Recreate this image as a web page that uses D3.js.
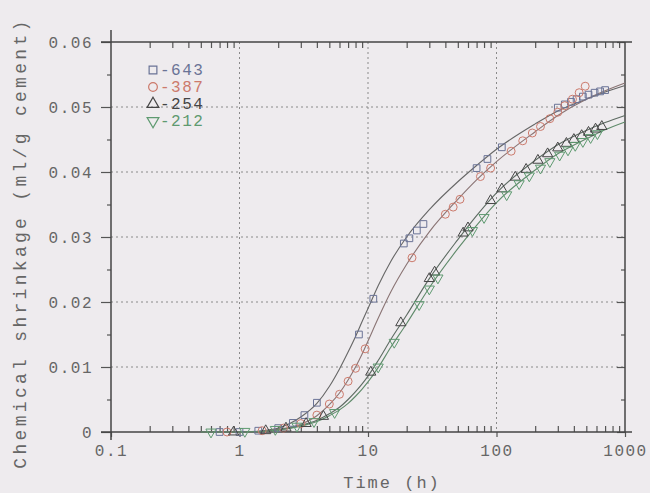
<!DOCTYPE html>
<html>
<head>
<meta charset="utf-8">
<script src="https://cdn.jsdelivr.net/npm/d3@7"></script>
<style>
  body { margin: 0; background: #eeebee; }
  text { font-family: "Liberation Mono", monospace; }
</style>
</head>
<body>
<div class="Chart"></div>
<script>
// chart size
const WIDTH = 650;
const HEIGHT = 493;

// fitted curves
const CURVE_T = [0.5, 1, 1.5, 2, 3, 4, 5, 6, 7, 8, 9, 10, 12, 15, 20, 30, 50, 70, 100, 200, 300, 500, 700, 1000];
const FIT_643 = [0, 0, 0.0002, 0.0006, 0.0023, 0.0044, 0.0070, 0.0097, 0.0123, 0.0147, 0.0170, 0.0190, 0.0225, 0.0262, 0.0300, 0.0342, 0.0385, 0.0410, 0.0435, 0.0474, 0.0494, 0.0512, 0.0523, 0.0533];
const FIT_387 = [0, 0, 0.0001, 0.0004, 0.0012, 0.0025, 0.0042, 0.0060, 0.0080, 0.0100, 0.0120, 0.0140, 0.0175, 0.0215, 0.0258, 0.0308, 0.0358, 0.0388, 0.0416, 0.0462, 0.0487, 0.0512, 0.0525, 0.0537];
const FIT_254 = [0, 0, 0.0001, 0.0003, 0.0010, 0.0018, 0.0028, 0.0038, 0.0050, 0.0062, 0.0074, 0.0086, 0.0110, 0.0142, 0.0180, 0.0236, 0.0296, 0.0333, 0.0368, 0.0418, 0.0442, 0.0464, 0.0476, 0.0487];
const FIT_212 = [0, 0, 0.0001, 0.0003, 0.0009, 0.0016, 0.0025, 0.0034, 0.0044, 0.0055, 0.0066, 0.0077, 0.0099, 0.0130, 0.0167, 0.0222, 0.0282, 0.0318, 0.0353, 0.0403, 0.0428, 0.0451, 0.0465, 0.0477];

// measured points
const T_643 = [0.7, 1, 1.4, 2, 2.6, 3.2, 4, 8.5, 11, 19, 21, 24, 27, 70, 85, 110, 300, 340, 380, 420, 470, 520, 580, 640, 700];
const V_643 = [0, 0, 0.0002, 0.0006, 0.0014, 0.0026, 0.0045, 0.0150, 0.0205, 0.0290, 0.0298, 0.0310, 0.0320, 0.0406, 0.0420, 0.0438, 0.0499, 0.0504, 0.0508, 0.0512, 0.0516, 0.0519, 0.0522, 0.0524, 0.0526];
const T_387 = [0.8, 1.5, 2.2, 3, 4, 5, 6, 7, 8, 9.5, 22, 40, 46, 52, 75, 90, 130, 160, 190, 220, 260, 300, 340, 390, 440, 490];
const V_387 = [0, 0.0002, 0.0006, 0.0013, 0.0026, 0.0043, 0.0058, 0.0078, 0.0098, 0.0128, 0.0268, 0.0335, 0.0346, 0.0358, 0.0393, 0.0406, 0.0432, 0.0448, 0.0460, 0.0470, 0.0482, 0.0492, 0.0502, 0.0512, 0.0522, 0.0532];
const T_254 = [0.9, 1.6, 2.3, 3.3, 4.5, 10.5, 18, 30, 33, 55, 60, 90, 110, 140, 170, 210, 250, 300, 350, 400, 460, 520, 590, 660];
const V_254 = [0, 0.0002, 0.0006, 0.0013, 0.0024, 0.0092, 0.0168, 0.0236, 0.0246, 0.0306, 0.0314, 0.0356, 0.0374, 0.0392, 0.0404, 0.0418, 0.0428, 0.0437, 0.0444, 0.0450, 0.0456, 0.0461, 0.0466, 0.0470];
const T_212 = [0.6, 1.1, 1.9, 2.8, 3.8, 5.5, 12, 16, 25, 30, 35, 65, 80, 120, 150, 180, 220, 260, 310, 360, 410, 470, 540, 610];
const V_212 = [0, 0.0001, 0.0004, 0.0009, 0.0016, 0.0030, 0.0100, 0.0138, 0.0196, 0.0220, 0.0237, 0.0310, 0.0330, 0.0365, 0.0382, 0.0394, 0.0406, 0.0416, 0.0426, 0.0434, 0.0441, 0.0447, 0.0453, 0.0459];

// legend / tick labels
const NAMES = ["-643", "-387", "-254", "-212"];
const X_TICKS = [0.1, 1, 10, 100, 1000];
const Y_TICKS = [0, 0.01, 0.02, 0.03, 0.04, 0.05, 0.06];

const SVG = d3
  .select(".Chart")
  .append("svg")
  .attr("width", WIDTH)
  .attr("height", HEIGHT);

const X = d3.scaleLog().domain([0.1, 1000]).range([111, 625]);
const Y = d3.scaleLinear().domain([0, 0.06]).range([432, 42]);

// grid
SVG.append("g")
  .selectAll("line")
  .data([1, 10, 100])
  .join("line")
  .attr("x1", d => X(d)).attr("x2", d => X(d))
  .attr("y1", Y(0.06)).attr("y2", Y(0))
  .attr("stroke", "#8a8a8a")
  .attr("stroke-dasharray", "2,3");

SVG.append("g")
  .selectAll("line")
  .data([0.01, 0.02, 0.03, 0.04, 0.05])
  .join("line")
  .attr("x1", X(0.1)).attr("x2", X(1000))
  .attr("y1", d => Y(d)).attr("y2", d => Y(d))
  .attr("stroke", "#8a8a8a")
  .attr("stroke-dasharray", "2,3");

// minor tick values for log axis
var minor = [];
[0.1, 1, 10, 100].forEach(b => {
  for (var k = 2; k < 10; k++) minor.push(b * k);
});
var yMinor = [0.005, 0.015, 0.025, 0.035, 0.045, 0.055];

function styleAxis(g) {
  g.select(".domain").remove();
  g.selectAll("line").attr("stroke", "#555").attr("stroke-width", 1.2);
  g.selectAll("text").attr("fill", "#666").style("font-size", "16px").attr("letter-spacing", "1.5px");
}

SVG.append("g").attr("transform", `translate(0,${Y(0)})`)
  .call(d3.axisBottom(X).tickValues(minor).tickSize(-6).tickFormat(""))
  .call(styleAxis);
SVG.append("g").attr("transform", `translate(0,${Y(0)})`)
  .call(d3.axisBottom(X).tickValues(X_TICKS).tickSize(5).tickPadding(8).tickFormat(d3.format("")))
  .call(styleAxis);
SVG.append("g").attr("transform", `translate(0,${Y(0.06)})`)
  .call(d3.axisTop(X).tickValues(minor).tickSize(-6).tickFormat(""))
  .call(styleAxis);
SVG.append("g").attr("transform", `translate(${X(0.1)},0)`)
  .call(d3.axisLeft(Y).tickValues(Y_TICKS).tickSize(10).tickPadding(8).tickFormat(d => d === 0 ? "0" : d3.format(".2f")(d)))
  .call(styleAxis);
SVG.append("g").attr("transform", `translate(${X(0.1)},0)`)
  .call(d3.axisLeft(Y).tickValues(yMinor).tickSize(4).tickFormat(""))
  .call(styleAxis);
SVG.append("g").attr("transform", `translate(${X(1000)},0)`)
  .call(d3.axisRight(Y).tickValues(Y_TICKS).tickSize(-8).tickFormat(""))
  .call(styleAxis);
SVG.append("g").attr("transform", `translate(${X(1000)},0)`)
  .call(d3.axisRight(Y).tickValues(yMinor).tickSize(-4).tickFormat(""))
  .call(styleAxis);

// frame
SVG.append("line").attr("x1", X(0.1)).attr("x2", X(0.1)).attr("y1", 30).attr("y2", 440)
  .attr("stroke", "#444").attr("stroke-width", 1.5);
SVG.append("line").attr("x1", X(1000)).attr("x2", X(1000)).attr("y1", Y(0.06)).attr("y2", Y(0))
  .attr("stroke", "#444").attr("stroke-width", 1.5);
SVG.append("line").attr("x1", 101).attr("x2", 632).attr("y1", Y(0.06)).attr("y2", Y(0.06))
  .attr("stroke", "#444").attr("stroke-width", 1.5);
SVG.append("line").attr("x1", 101).attr("x2", 632).attr("y1", Y(0)).attr("y2", Y(0))
  .attr("stroke", "#444").attr("stroke-width", 1.5);

// series
const SERIES = [
  { fit: FIT_643, t: T_643, v: V_643, color: "#6a7396", line: "#666", sym: d3.symbolSquare, rot: 0 },
  { fit: FIT_387, t: T_387, v: V_387, color: "#cc7a6c", line: "#8a7474", sym: d3.symbolCircle, rot: 0 },
  { fit: FIT_254, t: T_254, v: V_254, color: "#444", line: "#5d6b62", sym: d3.symbolTriangle, rot: 0 },
  { fit: FIT_212, t: T_212, v: V_212, color: "#5e9a70", line: "#5f8a6a", sym: d3.symbolTriangle, rot: 180 }
];

const LINE = d3.line()
  .x(d => X(d[0]))
  .y(d => Y(d[1]))
  .curve(d3.curveMonotoneX);

SERIES.forEach(s => {
  SVG.append("path")
    .datum(CURVE_T.map((t, i) => [t, s.fit[i]]))
    .attr("d", LINE)
    .attr("fill", "none")
    .attr("stroke", s.line)
    .attr("stroke-width", 1.1);
});

SERIES.forEach(s => {
  SVG.append("g")
    .selectAll("path")
    .data(s.t.map((t, i) => [t, s.v[i]]))
    .join("path")
    .attr("d", d3.symbol().type(s.sym).size(s.sym === d3.symbolCircle ? 50 : 45))
    .attr("transform", d => `translate(${X(d[0])},${Y(d[1])}) rotate(${s.rot})`)
    .attr("fill", "none")
    .attr("stroke", s.color)
    .attr("stroke-width", 1);
});

// legend
const LEG = SVG.append("g");
SERIES.forEach((s, i) => {
  var y = 70 + i * 17;
  LEG.append("path")
    .attr("d", d3.symbol().type(s.sym).size(60))
    .attr("transform", `translate(153,${y}) rotate(${s.rot})`)
    .attr("fill", "none")
    .attr("stroke", s.color)
    .attr("stroke-width", 1.2);
  LEG.append("text")
    .attr("x", 160)
    .attr("y", y + 5)
    .attr("fill", s.color)
    .attr("letter-spacing", "1.5px")
    .style("font-size", "16px")
    .text(NAMES[i]);
});

// axis titles
SVG.append("text")
  .attr("x", 392)
  .attr("y", 488)
  .attr("text-anchor", "middle")
  .attr("fill", "#666")
  .attr("letter-spacing", "2px")
  .style("font-size", "17px")
  .text("Time (h)");

SVG.append("text")
  .attr("transform", "translate(26,243) rotate(-90)")
  .attr("text-anchor", "middle")
  .attr("fill", "#666")
  .attr("letter-spacing", "3.3px")
  .style("font-size", "18px")
  .text("Chemical shrinkage (ml/g cement)");
</script>
</body>
</html>
